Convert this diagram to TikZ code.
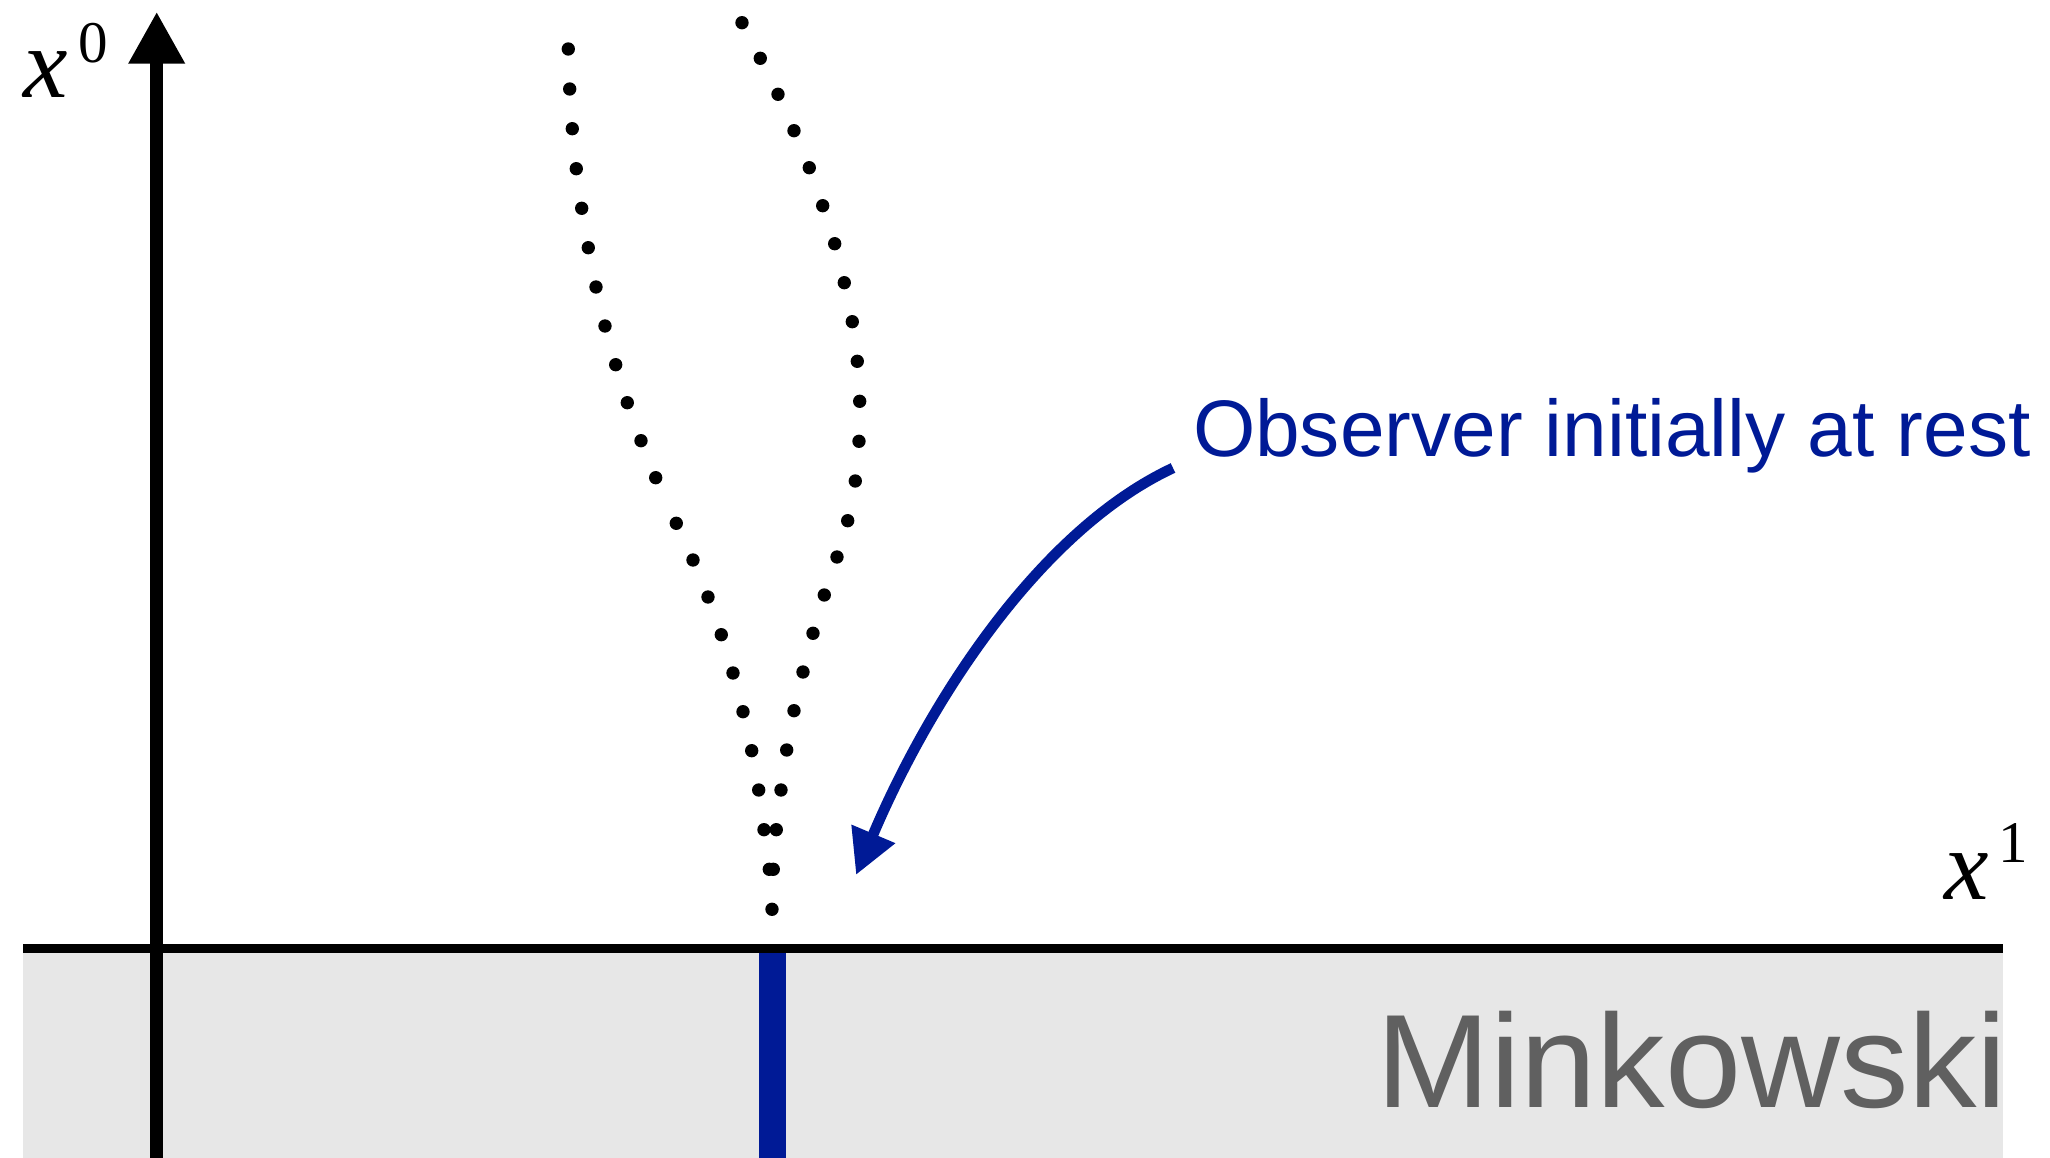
\documentclass[tikz,border=0pt]{standalone}
\usepackage{fontspec}
\usetikzlibrary{arrows.meta}
\newfontfamily\sansf{Liberation Sans}
\newfontfamily\serf{Liberation Serif}
\definecolor{obsblue}{RGB}{0,26,150}
\definecolor{mgray}{RGB}{96,96,96}
\definecolor{regiongray}{RGB}{231,231,231}
\tikzset{
  wdot/.style={fill=black},
  axisline/.style={line width=3.78pt, black},
  baseaxis/.style={line width=2.36pt, black},
  obsline/.style={line width=7.6pt, obsblue},
  pointer/.style={line width=3pt, obsblue, -{Triangle[length=12.7pt,width=12.7pt]}},
  lbl/.style={anchor=base west, inner sep=0pt, outer sep=0pt}
}
\begin{document}
\begin{tikzpicture}[x=0.01cm,y=-0.01cm]
\useasboundingbox (0,0) rectangle (2050,1158);
% Minkowski region
\fill[regiongray] (23.3,952) rectangle (2003,1158);
\coordinate (hL) at (23.3,948.5);
\coordinate (hR) at (2003,948.5);
\draw[baseaxis] (hL) -- (hR);
% vertical axis
\coordinate (vB) at (156.7,1158);
\coordinate (vT) at (156.7,11.7);
\draw[axisline,-{Triangle[length=14.8pt,width=15.1pt]}] (vB) -- (vT);
% observer worldline in Minkowski
\coordinate (oB) at (772.7,1158);
\coordinate (oT) at (772.7,952.7);
\draw[obsline] (oB) -- (oT);
% dotted trajectories
\foreach \p in {(568.3,49),(569.7,89),(572.3,128.7),(576.3,168.7),(581.7,208.3),(588.3,247.7),(596,287),(605,326),(615.7,364.7),(627.3,402.7),(641,440.7),(655.7,477.7),(676.3,523.3),(693,560),(708,597),(721.3,634.7),(733,673),(743,711.7),(751.7,750.7),(758.7,790),(764,829.7),(769.3,869.3),(772,909.3)}
  \fill[wdot] \p circle[radius=0.0667cm];
\foreach \p in {(742,22.7),(760.3,58.3),(778,94.3),(794,130.7),(809.3,167.7),(822.7,205.7),(834.7,243.7),(844.3,282.7),(852.3,321.7),(857.3,361.3),(859.7,401.3),(859,441.3),(855.3,481),(847.7,520.7),(837,557),(824.3,595),(813,633.3),(803,672),(794,710.7),(786.7,750),(781,790),(776.3,829.7),(773.3,869.3)}
  \fill[wdot] \p circle[radius=0.0667cm];
% labels
\node[lbl, font=\serf\fontsize{28.45pt}{30pt}\selectfont] (x0) at (24,98) {\itshape x\hspace{0.1cm}\raisebox{0.35cm}{\upshape\fontsize{16.8pt}{18pt}\selectfont 0}};
\node[lbl, font=\serf\fontsize{28.45pt}{30pt}\selectfont] (x1) at (1944,900) {\itshape x\hspace{0.1cm}\raisebox{0.37cm}{\upshape\fontsize{16.8pt}{18pt}\selectfont 1}};
\node[lbl, text=obsblue, font=\sansf\fontsize{22.8pt}{27pt}\selectfont] (obs) at (1193,457) {Observer initially at rest};
\node[lbl, text=mgray, font=\sansf\fontsize{37.8pt}{45pt}\selectfont] (mink) at (1376,1108) {\scalebox{1.03}[1]{Minkowski}};
% pointer arrow
\coordinate (aS) at (1173,468);
\coordinate (aE) at (856,875);
\draw[pointer] (aS) .. controls (1040,530) and (930,700) .. (aE);
\end{tikzpicture}
\end{document}
